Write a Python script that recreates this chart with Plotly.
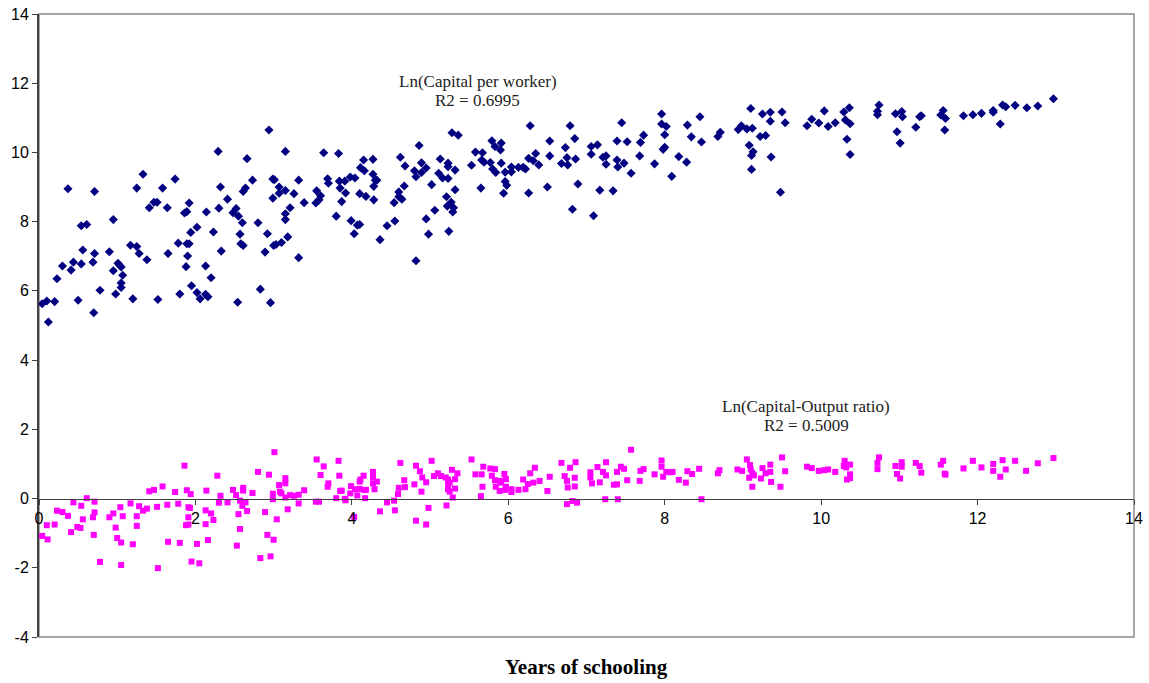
import plotly.graph_objects as go

# Ln(Capital per worker) vs years of schooling
cap_x = [0.04,0.10,0.12,0.20,0.23,0.30,0.37,0.41,0.44,0.50,0.54,0.54,0.56,0.61,0.69,0.71,0.71,0.70,0.78,0.90,
         0.95,0.95,0.98,1.01,1.03,1.05,1.07,1.05,1.05,1.17,1.20,1.25,1.25,1.28,1.33,1.38,1.41,1.47,1.51,1.52,
         1.58,1.64,1.65,1.74,1.78,1.80,1.86,1.89,1.88,1.89,1.92,1.90,1.92,1.94,1.95,2.02,2.02,2.06,2.13,2.13,
         2.16,2.14,2.20,2.23,2.29,2.30,2.32,2.33,2.41,2.48,2.52,2.55,2.54,2.57,2.58,2.60,2.61,2.61,2.64,2.66,
         2.73,2.80,2.83,2.89,2.92,2.94,2.96,2.99,2.99,3.01,3.00,3.03,3.07,3.07,3.10,3.15,3.15,3.15,3.15,3.18,
         3.21,3.26,3.32,3.32,3.39,3.54,3.55,3.58,3.60,3.64,3.69,3.70,3.80,3.83,3.84,3.85,3.87,3.91,3.92,3.98,
         3.99,4.03,4.04,4.07,4.10,4.10,4.11,4.15,4.16,
         4.27,4.27,4.30,4.32,4.28,4.18,4.28,4.36,4.45,4.54,4.55,4.60,4.60,4.64,4.62,4.68,4.67,4.80,4.82,4.82,
         4.86,4.89,4.89,4.95,4.95,4.98,5.02,5.06,5.11,5.13,5.16,5.21,5.23,5.23,5.23,5.22,5.24,5.28,5.36,5.27,
         5.30,5.29,5.32,5.32,5.53,5.58,5.65,5.67,5.66,5.69,5.77,5.79,5.83,5.90,5.91,5.91,5.80,5.84,5.96,5.96,
         5.98,5.94,6.04,6.04,6.13,6.19,6.22,6.26,6.26,6.28,6.32,6.35,6.39,6.50,6.53,6.53,6.68,6.73,6.75,6.76,
         6.79,6.82,6.85,6.86,6.89,7.06,7.06,7.09,7.14,7.17,7.21,7.25,7.25,7.34,7.39,7.40,7.45,7.39,7.48,7.52,
         7.57,7.68,7.69,7.73,7.87,7.96,7.96,8.02,8.00,7.98,8.00,8.09,8.18,8.28,8.29,
         8.34,8.45,8.47,8.68,8.71,8.94,8.98,9.05,9.08,9.10,9.12,9.13,9.11,9.11,9.22,9.25,9.29,9.35,9.35,9.36,
         9.48,9.50,9.54,9.82,9.88,9.97,10.04,10.09,10.18,10.29,10.31,10.36,10.37,10.33,10.37,10.74,10.72,10.72,
         10.95,11.03,11.04,10.97,11.01,11.21,11.26,11.28,11.53,11.56,11.59,11.58,11.82,11.94,12.05,12.20,12.20,
         12.29,12.32,12.36,12.48,12.63,12.77,12.97]
cap_y = [5.63,5.71,5.10,5.69,6.35,6.72,8.95,6.60,6.83,5.73,6.78,7.88,7.18,7.92,6.83,7.08,8.87,5.37,6.02,7.13,
         8.06,6.58,5.91,6.80,6.74,6.69,6.45,6.23,6.10,7.32,5.77,7.28,8.97,7.08,9.37,6.90,8.40,8.56,8.56,5.75,
         8.97,8.40,7.08,9.23,7.38,5.91,8.25,8.29,6.70,7.36,7.36,7.01,8.54,7.69,6.15,7.84,5.95,5.77,6.72,5.90,
         5.83,8.28,6.38,7.70,10.03,8.39,9.00,7.15,8.65,8.26,8.38,8.16,5.67,7.64,7.36,7.97,7.31,8.87,8.97,9.82,
         9.20,7.97,6.05,7.12,7.65,10.65,5.66,8.68,9.23,9.21,7.31,7.34,9.00,8.82,7.40,10.03,8.90,8.23,8.06,7.56,
         8.40,8.81,9.20,6.96,8.55,8.54,8.89,8.63,8.75,9.99,9.24,9.11,8.16,9.97,9.17,8.97,8.58,9.17,8.83,9.29,
         8.03,7.65,9.26,7.90,7.92,8.81,9.56,9.78,9.47,
         9.80,9.37,9.20,9.20,9.02,8.73,8.63,7.48,7.88,8.55,8.02,8.86,8.72,8.65,9.86,9.61,9.03,9.47,9.30,6.87,
         10.20,9.70,9.42,9.55,8.08,7.64,9.07,8.33,9.40,9.81,9.26,8.72,9.69,9.59,9.25,8.45,7.72,10.57,10.50,8.56,
         8.40,8.28,9.49,8.92,9.63,10.01,8.97,9.99,9.78,9.72,9.71,10.34,10.17,10.07,10.27,9.69,9.52,9.42,9.43,9.16,
         9.05,8.82,9.58,9.44,9.57,9.57,9.52,9.83,8.83,10.77,9.76,9.97,9.64,9.00,10.33,9.90,9.68,10.14,9.85,9.64,
         10.77,8.36,10.40,9.81,9.09,10.17,9.95,8.17,10.22,8.91,9.86,9.90,9.66,8.89,10.33,9.58,10.86,9.78,9.69,10.31,
         9.40,9.90,10.29,10.50,9.67,11.11,10.82,10.75,10.51,10.09,10.15,9.31,9.88,9.72,10.79,
         10.45,11.03,10.30,10.46,10.58,10.66,10.77,10.68,10.21,11.27,10.70,10.02,9.91,9.51,10.46,11.11,10.49,11.16,10.90,9.87,
         8.85,11.17,10.86,10.77,10.96,10.85,11.20,10.75,10.86,11.17,10.94,11.29,10.83,10.38,9.94,11.37,11.19,11.09,
         11.12,11.18,11.03,10.60,10.27,10.73,11.03,11.06,11.08,11.21,10.98,10.65,11.06,11.09,11.13,11.16,11.21,
         10.82,11.37,11.32,11.36,11.29,11.34,11.55]

# Ln(Capital-Output ratio) vs years of schooling
ko_x = [0.04,0.11,0.10,0.20,0.23,0.30,0.37,0.41,0.44,0.49,0.53,0.54,0.56,0.61,0.69,0.71,0.71,0.70,0.78,0.90,
        0.95,0.98,1.00,1.04,1.05,1.05,1.07,1.17,1.20,1.25,1.25,1.28,1.33,1.38,1.41,1.47,1.51,1.52,1.58,1.64,
        1.65,1.74,1.78,1.80,1.86,1.89,1.91,1.93,1.94,1.91,1.88,1.91,1.95,2.02,2.05,2.13,2.13,2.14,2.16,2.20,
        2.23,2.28,2.30,2.32,2.41,2.48,2.52,2.55,2.53,2.57,2.57,2.60,2.61,2.61,2.64,2.66,2.73,2.80,2.83,2.89,
        2.92,2.94,2.96,2.99,2.99,3.00,3.01,3.04,3.07,3.08,3.10,3.15,3.15,3.15,3.18,3.21,3.26,3.32,3.32,3.39,
        3.54,3.55,3.58,3.60,3.64,3.69,3.70,3.80,3.83,3.84,3.85,3.87,3.91,3.92,3.98,3.99,4.03,4.04,4.07,4.10,
        4.10,4.11,4.15,4.16,
        4.17,4.18,4.27,4.27,4.27,4.32,4.29,4.36,4.45,4.54,4.55,4.60,4.59,4.62,4.67,4.68,4.80,4.82,4.82,4.87,
        4.90,4.89,4.95,4.95,4.98,5.02,5.05,5.10,5.14,5.20,5.23,5.25,5.23,5.25,5.23,5.28,5.32,5.32,5.35,5.29,
        5.21,5.53,5.58,5.66,5.68,5.67,5.65,5.77,5.79,5.83,5.83,5.84,5.89,5.90,5.91,5.95,5.97,5.97,5.96,6.04,
        6.04,6.13,6.19,6.22,6.25,6.28,6.32,6.34,6.40,6.50,6.53,6.68,6.72,6.75,6.76,6.79,6.86,6.85,6.85,6.75,
        6.82,6.88,7.05,7.05,7.07,7.14,7.17,7.21,7.25,7.25,7.24,7.35,7.39,7.39,7.40,7.44,7.48,7.52,7.57,7.68,
        7.69,7.73,7.87,7.96,7.96,7.98,8.02,8.07,8.10,8.18,8.27,8.29,
        8.35,8.44,8.47,8.68,8.70,8.93,8.99,9.05,9.09,9.10,9.12,9.08,9.14,9.12,9.23,9.25,9.29,9.35,9.35,9.36,
        9.48,9.50,9.54,9.82,9.88,9.97,10.04,10.09,10.18,10.30,10.29,10.32,10.37,10.37,10.33,10.37,10.74,10.72,
        10.72,10.95,11.03,11.03,10.97,11.01,11.21,11.26,11.28,11.53,11.56,11.58,11.59,11.82,11.94,12.05,12.20,
        12.20,12.29,12.32,12.36,12.48,12.62,12.77,12.97]
ko_y = [-1.08,-1.18,-0.77,-0.75,-0.35,-0.39,-0.50,-0.97,-0.11,-0.82,-0.85,-0.21,-0.60,0.01,-0.54,-0.40,-0.09,-1.05,-1.83,-0.54,
        -0.43,-0.84,-1.14,-0.25,-1.27,-1.92,-0.51,-0.14,-1.32,-0.51,-0.79,-0.22,-0.35,-0.29,0.21,0.25,-0.24,-2.01,0.35,-0.18,
        -1.25,0.19,-0.15,-1.28,0.95,0.24,-0.25,-0.27,0.13,-0.54,-0.77,-0.75,-1.82,-1.31,-1.87,-0.34,-0.74,0.23,-1.20,-0.43,
        -0.62,0.66,-0.12,0.08,-0.11,0.25,0.10,-0.45,-1.36,-0.88,-0.06,-0.21,0.31,0.23,-0.11,-0.36,0.16,0.77,-1.72,-0.39,
        -1.05,0.69,-1.67,0.14,-0.02,-1.19,1.34,-0.60,0.39,0.20,0.15,0.59,0.44,0.03,-0.31,0.10,0.08,-0.14,0.11,0.24,
        -0.09,1.13,-0.09,0.68,0.93,0.34,0.44,0.01,1.09,0.66,0.22,0.23,-0.01,-0.05,0.15,0.36,-0.53,0.27,0.09,0.28,
        0.49,0.55,0.66,0.25,
        0.01,0.25,0.77,0.61,0.44,0.49,0.27,-0.37,-0.11,-0.06,-0.34,0.31,0.13,1.03,0.53,0.33,0.41,-0.64,0.95,0.79,
        0.61,0.20,0.47,-0.75,-0.27,1.09,0.65,0.73,0.65,0.61,0.55,0.46,0.27,0.20,0.40,0.83,0.56,0.29,0.73,0.03,
        -0.20,1.13,0.70,0.70,0.92,0.34,0.07,0.87,0.66,0.85,0.53,0.34,0.22,0.51,0.46,0.71,0.56,0.34,0.25,0.27,
        0.19,0.25,0.55,0.27,0.42,0.73,0.46,0.89,0.51,0.22,0.63,1.03,0.65,0.51,0.32,0.89,1.05,0.60,0.35,-0.16,
        -0.07,-0.12,0.76,0.61,0.44,0.91,0.47,0.77,0.67,1.05,-0.02,0.40,0.41,0.77,-0.02,0.92,0.86,0.53,1.41,0.51,
        0.80,0.85,0.70,1.10,0.92,0.63,0.77,0.76,0.77,0.54,0.46,0.79,
        0.71,0.86,-0.02,0.73,0.82,0.84,0.80,1.13,0.97,0.84,0.73,0.60,0.67,0.34,0.58,0.88,0.73,0.98,0.77,0.48,
        0.34,1.19,0.79,0.92,0.88,0.80,0.82,0.84,0.77,1.09,0.94,0.90,0.98,0.70,0.55,0.59,1.19,1.03,
        0.85,0.94,1.05,0.92,0.71,0.58,1.03,0.94,0.75,0.98,1.09,0.72,0.69,0.87,1.09,0.90,1.00,
        0.80,0.63,1.11,0.84,1.09,0.80,1.02,1.17]

x_ticks = [0, 2, 4, 6, 8, 10, 12, 14]
y_ticks = [-4, -2, 0, 2, 4, 6, 8, 10, 12, 14]

fig = go.Figure()
fig.add_trace(go.Scatter(x=cap_x, y=cap_y, mode="markers", name="Ln(Capital per worker)",
                         marker=dict(symbol="diamond", size=7, color="#000080")))
fig.add_trace(go.Scatter(x=ko_x, y=ko_y, mode="markers", name="Ln(Capital-Output ratio)",
                         marker=dict(symbol="square", size=6, color="#FF00FF")))

tick_font = dict(family="Liberation Sans, Arial, sans-serif", size=16, color="black")

fig.update_layout(
    width=1149, height=683,
    margin=dict(l=39, r=15, t=14, b=46, autoexpand=False),
    paper_bgcolor="white", plot_bgcolor="white",
    showlegend=False,
    hovermode=False,
    xaxis=dict(range=[0, 14], tickvals=x_ticks, ticktext=[str(v) for v in x_ticks],
               showgrid=False, zeroline=False, showline=True, linecolor="#404040", linewidth=1.5,
               ticks="outside", ticklen=5, tickcolor="#404040", tickfont=tick_font,
               anchor="free", position=4/18, automargin=False, ticklabeloverflow="allow"),
    yaxis=dict(range=[-4, 14], tickvals=y_ticks, ticktext=[str(v) for v in y_ticks],
               showgrid=False, zeroline=False, showline=True, linecolor="#404040", linewidth=2,
               ticks="outside", ticklen=5, tickcolor="#404040", tickfont=tick_font,
               automargin=False, ticklabeloverflow="allow"),
    shapes=[dict(type="rect", xref="paper", yref="paper", x0=0, y0=0, x1=1, y1=1,
                 line=dict(color="#8a8a8a", width=1.5), layer="below")],
    annotations=[
        dict(x=5.61, y=12.04, xref="x", yref="y", text="Ln(Capital per worker)", showarrow=False,
             font=dict(family="Liberation Serif, serif", size=17, color="#222")),
        dict(x=5.61, y=11.49, xref="x", yref="y", text="R2 = 0.6995", showarrow=False,
             font=dict(family="Liberation Serif, serif", size=17, color="#222")),
        dict(x=9.81, y=2.65, xref="x", yref="y", text="Ln(Capital-Output ratio)", showarrow=False,
             font=dict(family="Liberation Serif, serif", size=17, color="#222")),
        dict(x=9.81, y=2.12, xref="x", yref="y", text="R2 = 0.5009", showarrow=False,
             font=dict(family="Liberation Serif, serif", size=17, color="#222")),
        dict(x=0.5, y=-0.025, xref="paper", yref="paper", text="<b>Years of schooling</b>",
             showarrow=False, yanchor="top",
             font=dict(family="Liberation Serif, serif", size=21, color="black")),
    ],
)

# Remove the browser's default 8px body margin so the figure sits at the page origin.
fig.write_html("out.html", config={"displayModeBar": False, "staticPlot": True},
               post_script="document.body.style.margin='0';document.body.style.overflow='hidden';")
